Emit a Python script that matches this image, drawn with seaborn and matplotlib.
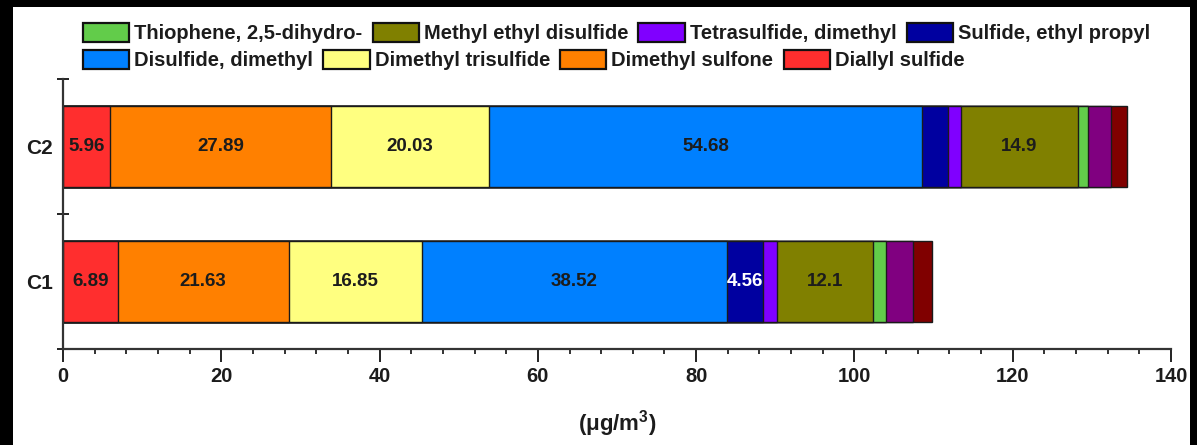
import matplotlib
matplotlib.use("Agg")
import matplotlib.pyplot as plt
from matplotlib.patches import Patch, Rectangle
from matplotlib.ticker import MultipleLocator, FixedLocator, NullFormatter, FixedFormatter
import numpy as np
import pandas as pd
import seaborn as sns

sns.set_theme(style="white")
plt.rcParams["font.family"] = ["Liberation Sans", "DejaVu Sans"]
plt.rcParams["font.weight"] = "bold"
plt.rcParams["mathtext.fontset"] = "custom"
plt.rcParams["mathtext.bf"] = "Liberation Sans:bold"
plt.rcParams["mathtext.rm"] = "Liberation Sans:bold"

# Samples (top to bottom)
samples = ["C2", "C1"]

# Compounds in stacking order, left to right
compounds = [
    "Diallyl sulfide",
    "Dimethyl sulfone",
    "Dimethyl trisulfide",
    "Disulfide, dimethyl",
    "Sulfide, ethyl propyl",
    "Tetrasulfide, dimethyl",
    "Methyl ethyl disulfide",
    "Thiophene, 2,5-dihydro-",
    "Other 1",
    "Other 2",
]
colors = [
    "#FF2E2E", "#FF8000", "#FFFF80", "#0080FF", "#0000A0",
    "#8000FF", "#808000", "#62CC4A", "#800080", "#800000",
]

# Concentrations (µg/m³) per compound
c2_values = [5.96, 27.89, 20.03, 54.68, 3.2, 1.65, 14.9, 1.25, 2.9, 2.0]
c1_values = [6.89, 21.63, 16.85, 38.52, 4.56, 1.75, 12.1, 1.75, 3.3, 2.5]

# Legend layout: two rows, as entries appear
legend_row1 = ["Thiophene, 2,5-dihydro-", "Methyl ethyl disulfide",
               "Tetrasulfide, dimethyl", "Sulfide, ethyl propyl"]
legend_row2 = ["Disulfide, dimethyl", "Dimethyl trisulfide",
               "Dimethyl sulfone", "Diallyl sulfide"]

xticks = [0, 20, 40, 60, 80, 100, 120, 140]

values = np.array([c2_values, c1_values])
cum = values.cumsum(axis=1)

TEXT = "#1c1c1c"
W, H = 1197, 445
fig = plt.figure(figsize=(W / 100, H / 100), dpi=100)
fig.patch.set_facecolor("black")
fig.add_artist(Rectangle((13 / W, 0), (1190 - 13) / W, (H - 7) / H,
                         transform=fig.transFigure, facecolor="white",
                         edgecolor="none", zorder=-10))

ax = fig.add_axes([63 / W, (H - 349) / H, (1171 - 63) / W, (349 - 79) / H])
ax.set_facecolor("white")

# Stacked bars: draw cumulative totals from the longest to the shortest
for k in range(len(compounds) - 1, -1, -1):
    df = pd.DataFrame({"sample": samples, "total": cum[:, k]})
    sns.barplot(data=df, x="total", y="sample", order=samples, orient="h",
                color=colors[k], saturation=1, width=0.6,
                edgecolor="#1a1a1a", linewidth=1.0, ax=ax, errorbar=None)

# Value labels centred in the larger segments
for i, s in enumerate(samples):
    for k in range(len(compounds)):
        v = values[i, k]
        if v > 4:
            mid = cum[i, k] - v / 2
            txt_color = "white" if colors[k] == "#0000A0" else TEXT
            ax.text(mid, i, f"{v:g}", ha="center", va="center",
                    fontsize=13.5, fontweight="bold", color=txt_color)

ax.set_xlim(0, 140)
ax.set_ylim(1.5, -0.5)
ax.set_ylabel("")
ax.set_xlabel("(μg/m$^{3}$)", fontsize=16, fontweight="bold",
              labelpad=16, color=TEXT)

for side in ["top", "right"]:
    ax.spines[side].set_visible(False)
for side in ["left", "bottom"]:
    ax.spines[side].set_color("#333333")
    ax.spines[side].set_linewidth(1.6)

ax.xaxis.set_major_locator(FixedLocator(xticks))
ax.xaxis.set_minor_locator(MultipleLocator(4))
ax.tick_params(axis="x", which="major", direction="out", length=9, width=1.4,
               color="#222222", labelsize=14.5, labelcolor=TEXT, pad=4,
               bottom=True)
ax.tick_params(axis="x", which="minor", direction="out", length=3.5, width=1.3,
               color="#222222", bottom=True)
for lab in ax.get_xticklabels():
    lab.set_fontweight("bold")

ax.yaxis.set_major_locator(FixedLocator([-0.5, 0.5, 1.5]))
ax.yaxis.set_major_formatter(NullFormatter())
ax.yaxis.set_minor_locator(FixedLocator([0, 1]))
ax.yaxis.set_minor_formatter(FixedFormatter(samples))
ax.tick_params(axis="y", which="major", direction="inout", length=8.5,
               width=1.4, color="#222222", left=True)
ax.tick_params(axis="y", which="minor", length=0, pad=7, labelsize=15,
               labelcolor=TEXT, left=True)
for lab in ax.get_yticklabels(minor=True):
    lab.set_fontweight("bold")

color_of = dict(zip(compounds, colors))


def make_legend(names, ycenter):
    handles = [Patch(facecolor=color_of[n], edgecolor="#111111", linewidth=1.6)
               for n in names]
    leg = fig.legend(handles, names, loc="center left",
                     bbox_to_anchor=(83 / W, 1 - ycenter / H),
                     ncol=4, frameon=False,
                     handlelength=2.3, handleheight=1.1, handletextpad=0.25,
                     columnspacing=0.5, borderpad=0, borderaxespad=0,
                     prop={"weight": "bold", "size": 14.5})
    for t in leg.get_texts():
        t.set_color(TEXT)
    return leg


make_legend(legend_row1, 33)
make_legend(legend_row2, 60)

fig.savefig("out.png", dpi=100, facecolor=fig.get_facecolor())
